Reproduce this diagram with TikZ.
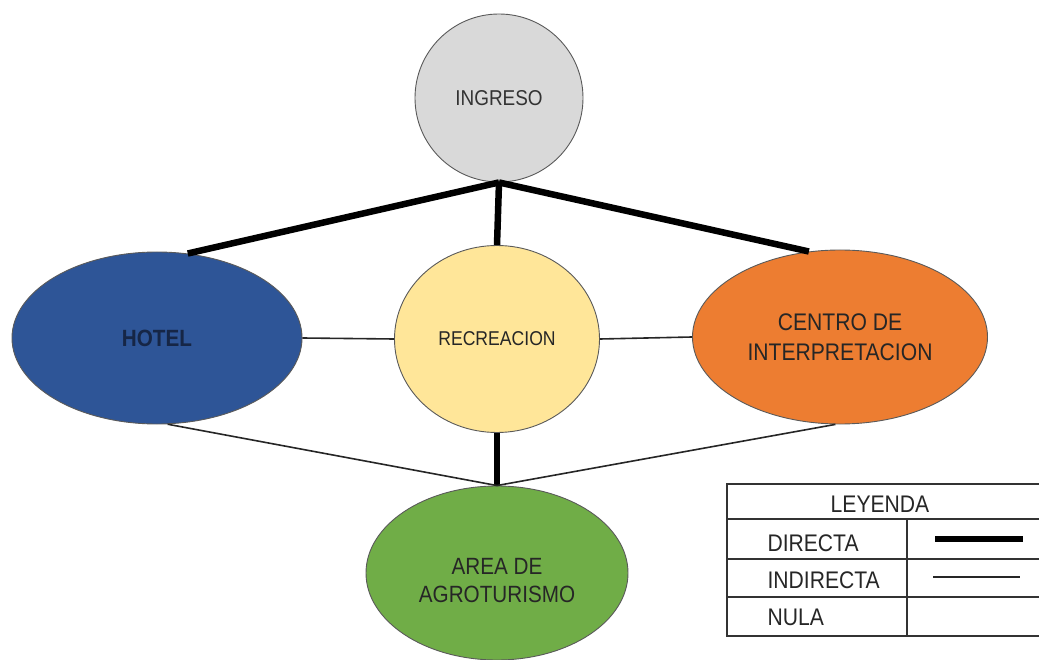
\documentclass[tikz,border=0pt]{standalone}
\usepackage{fontspec}
\setmainfont{Liberation Sans}
\newfontfamily\narrowfont[FakeStretch=0.88]{Liberation Sans}
\usetikzlibrary{shapes.geometric}
\definecolor{ingfill}{RGB}{217,217,217}
\definecolor{hotfill}{RGB}{46,85,151}
\definecolor{hottext}{RGB}{22,38,70}
\definecolor{recfill}{RGB}{255,230,153}
\definecolor{cenfill}{RGB}{237,125,49}
\definecolor{agrfill}{RGB}{112,173,71}
\definecolor{edge}{RGB}{90,90,90}
\tikzset{
  blob/.style={ellipse, draw=edge, line width=0.9pt, inner sep=0pt, align=center, font=\narrowfont},
  direct/.style={line width=6.5pt, black},
  indirect/.style={line width=1.6pt, black!85},
  tline/.style={line width=1.2pt, black!80},
  legtext/.style={font=\narrowfont\fontsize{24}{26}\selectfont, text=black!85}
}
\begin{document}
\begin{tikzpicture}[x=1pt,y=-1pt]
\useasboundingbox (0,0) rectangle (1039,660);
% nodes
\node[blob, fill=ingfill, minimum width=168pt, minimum height=168pt, text=black!80, font=\narrowfont\fontsize{21.5}{24}\selectfont] (ing) at (499,98) {INGRESO};
\node[blob, fill=hotfill, minimum width=290pt, minimum height=172pt, text=hottext, font=\narrowfont\bfseries\fontsize{23.5}{26}\selectfont] (hot) at (157,338) {HOTEL};
\node[blob, fill=recfill, minimum width=205pt, minimum height=187pt, text=black!85, font=\narrowfont\fontsize{20}{22}\selectfont] (rec) at (497,339) {RECREACION};
\node[blob, fill=cenfill, minimum width=295pt, minimum height=174pt, text=black!85, font=\narrowfont\fontsize{24}{30}\selectfont] (cen) at (840,337) {CENTRO DE\\INTERPRETACION};
\node[blob, fill=agrfill, minimum width=262pt, minimum height=174pt] (agr) at (497,573) {};
\node[align=center, text=black!85, font=\narrowfont\fontsize{23.5}{28}\selectfont] (agrtxt) at ([yshift=-8pt]agr.center) {AREA DE\\AGROTURISMO};
% connectors
\draw[direct] (ing.south) -- (hot.70);
\draw[direct] (ing.south) -- (rec.north);
\draw[direct] (ing.south) -- (cen.110);
\draw[direct] (rec.south) -- (agr.north);
\draw[indirect] (hot.east) -- (rec.west);
\draw[indirect] (rec.east) -- (cen.west);
\draw[indirect] (hot.-83) -- (agr.north);
\draw[indirect] (cen.-93) -- (agr.north);
% legend
\draw[tline] (1045,484) -- (727,484) -- (727,636) -- (1045,636);
\draw[tline] (727,519) -- (1045,519);
\draw[tline] (727,559) -- (1045,559);
\draw[tline] (727,597) -- (1045,597);
\draw[tline] (907,519) -- (907,636);
\node[legtext] (ley) at (880,504) {LEYENDA};
\node[legtext, anchor=west] (ldir) at (764,543) {DIRECTA};
\node[legtext, anchor=west] (lind) at (764,580) {INDIRECTA};
\node[legtext, anchor=west] (lnul) at (764,617) {NULA};
\coordinate (d1) at (935,539); \coordinate (d2) at (1023,539);
\draw[line width=5.5pt, black] (d1) -- (d2);
\coordinate (i1) at (933,577); \coordinate (i2) at (1020,577);
\draw[line width=1.3pt, black!85] (i1) -- (i2);
\end{tikzpicture}
\end{document}
